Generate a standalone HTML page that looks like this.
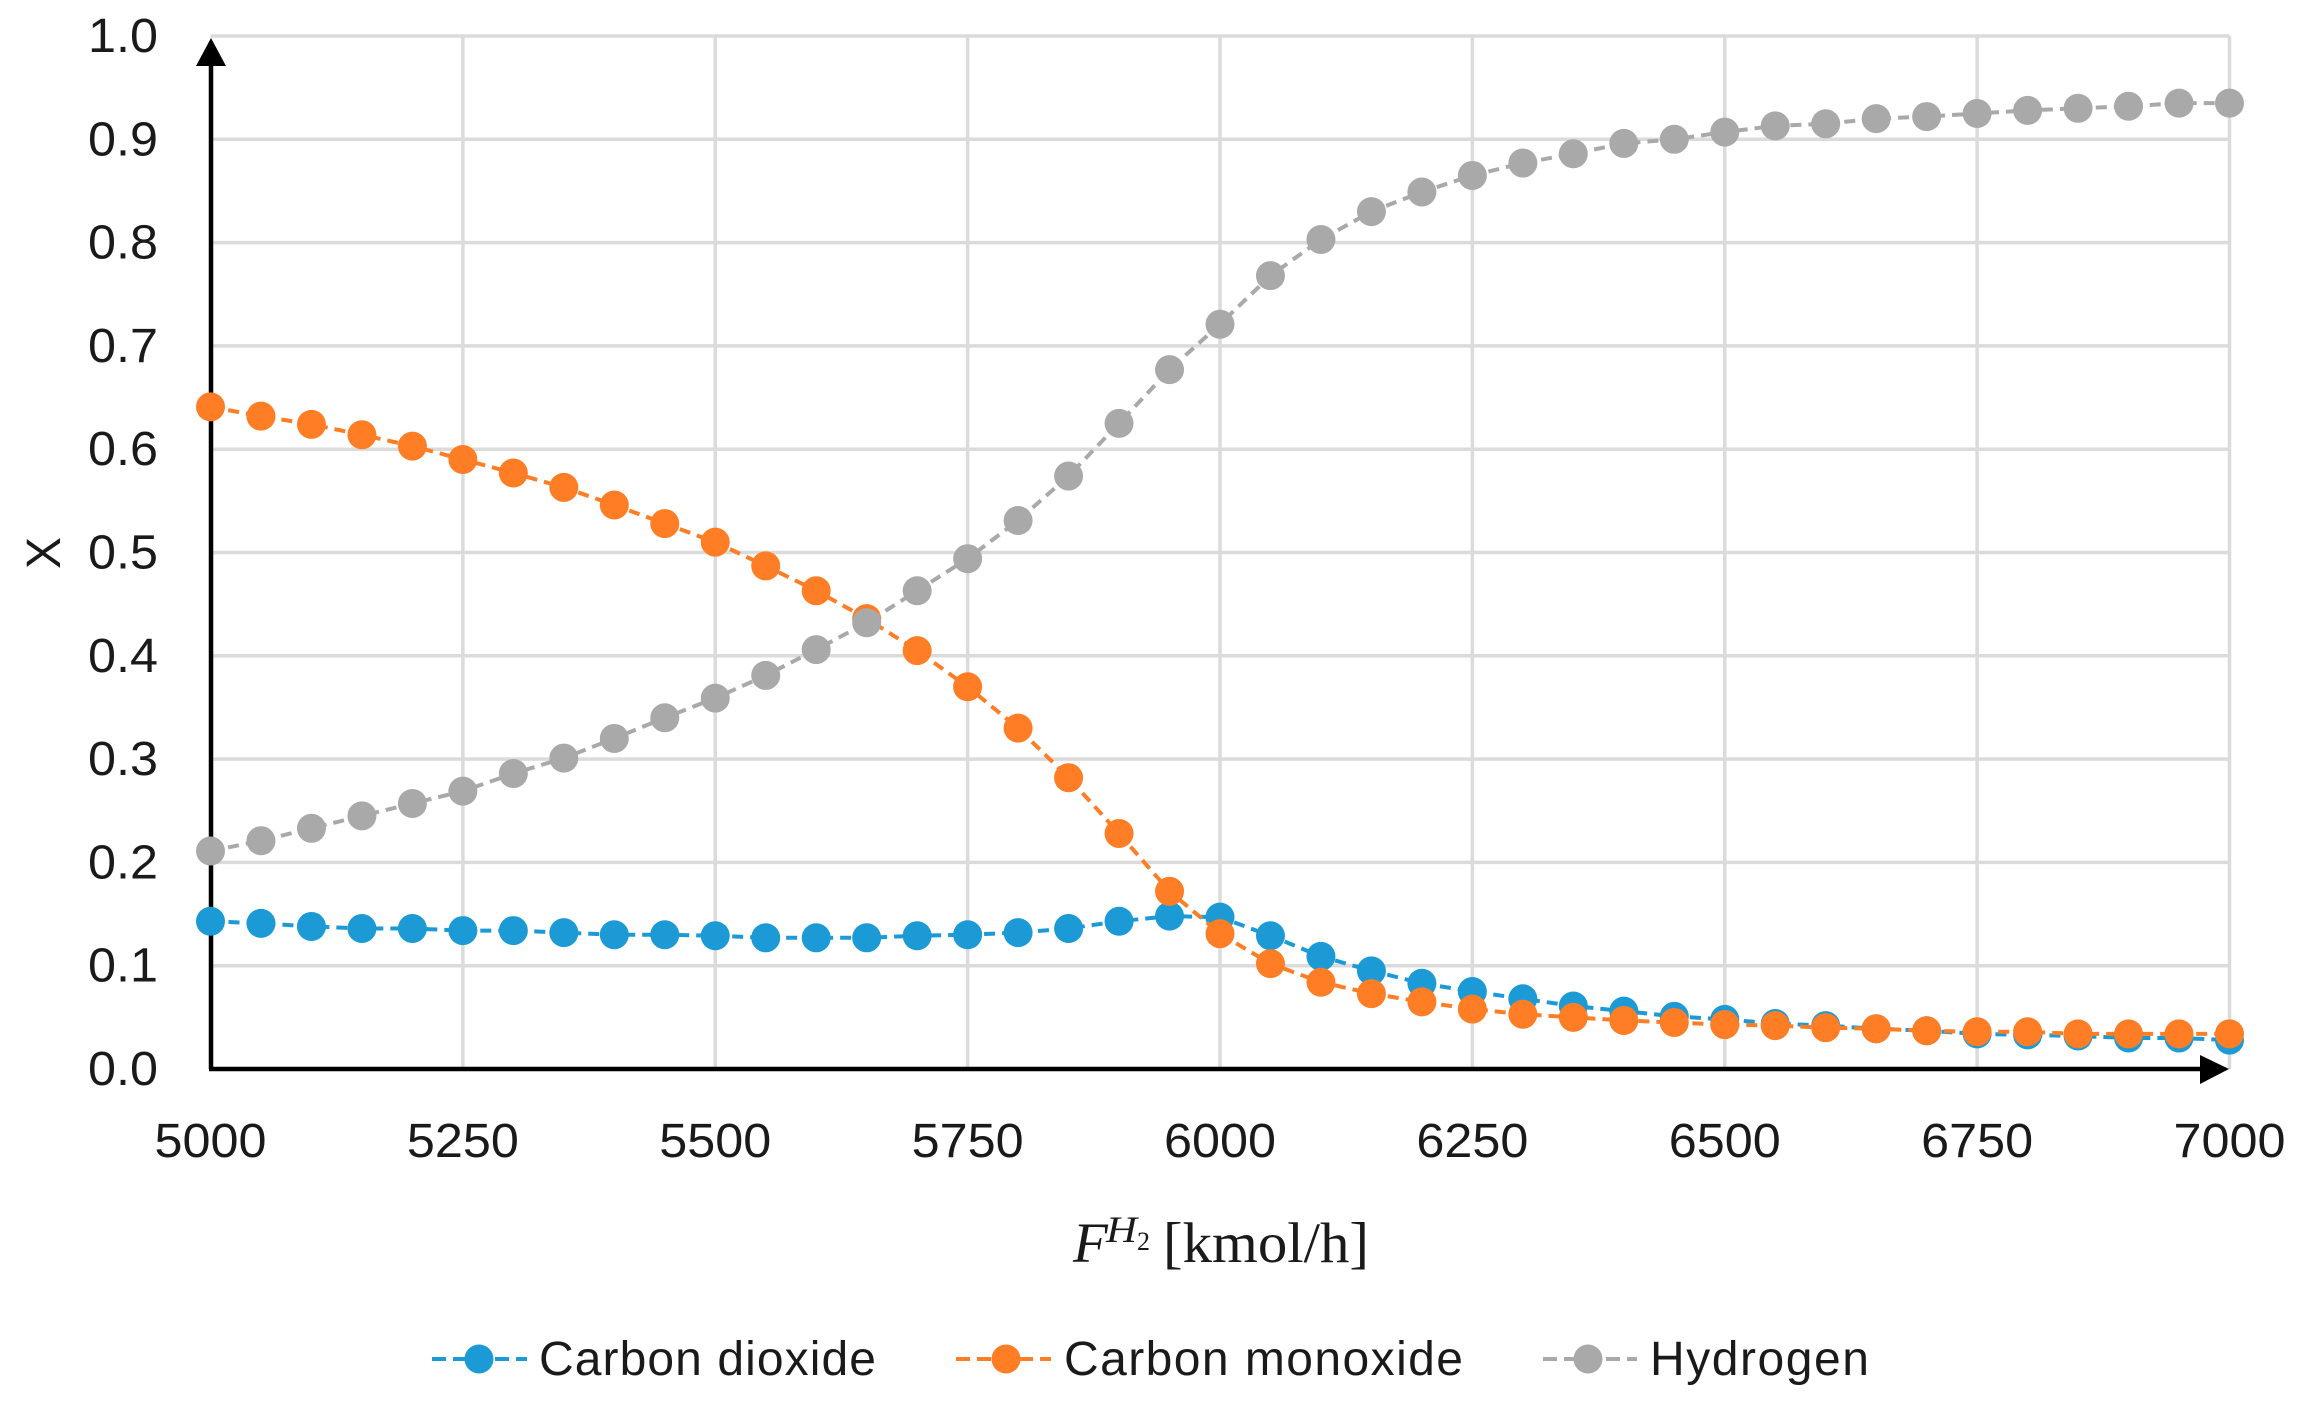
<!DOCTYPE html>
<html lang="en">
<head>
<meta charset="utf-8">
<title>Mole fraction vs hydrogen flow</title>
<style>
  html, body { margin: 0; padding: 0; background: #ffffff; }
  svg { display: block; }
  text { font-family: "Liberation Sans", sans-serif; fill: #1a1a1a; }
  .serif { font-family: "Liberation Serif", serif; }
</style>
</head>
<body>
<svg id="chart" xmlns="http://www.w3.org/2000/svg" width="2302" height="1408" viewBox="0 0 2302 1408">
  <rect x="0" y="0" width="2302" height="1408" fill="#ffffff"/>
  <g id="grid"></g>
  <g id="axes">
    <line x1="211" y1="1069" x2="211" y2="60" stroke="#000" stroke-width="4.5"/>
    <polygon points="211,38 196,66 226,66" fill="#000"/>
    <line x1="209" y1="1069" x2="2205" y2="1069" stroke="#000" stroke-width="4.5"/>
    <polygon points="2229,1069 2200,1055 2200,1084" fill="#000"/>
  </g>
  <g id="y-ticks"></g>
  <g id="x-ticks"></g>
  <g id="series"></g>

  <text transform="translate(60,553) rotate(-90)" text-anchor="middle" font-size="48">X</text>

  <g>
    <text class="serif" x="1073" y="1262" font-size="57" font-style="italic">F</text>
    <text class="serif" x="1106" y="1242" font-size="37" font-style="italic" textLength="31" lengthAdjust="spacingAndGlyphs">H</text>
    <text class="serif" x="1137" y="1250" font-size="26">2</text>
    <text class="serif" x="1163" y="1262" font-size="57" textLength="206" lengthAdjust="spacingAndGlyphs">[kmol/h]</text>
  </g>

  <g>
    <g>
      <line x1="432" y1="1359" x2="527" y2="1359" stroke="#1b9ad6" stroke-width="4" stroke-dasharray="14 7"/>
      <circle cx="479" cy="1359" r="14.5" fill="#1b9ad6"/>
      <text x="539" y="1375" font-size="48" textLength="337" lengthAdjust="spacing">Carbon dioxide</text>
    </g>
    <g>
      <line x1="956" y1="1359" x2="1051" y2="1359" stroke="#ff7d24" stroke-width="4" stroke-dasharray="14 7"/>
      <circle cx="1006" cy="1359" r="14.5" fill="#ff7d24"/>
      <text x="1064" y="1375" font-size="48" textLength="399" lengthAdjust="spacing">Carbon monoxide</text>
    </g>
    <g>
      <line x1="1543" y1="1359" x2="1637" y2="1359" stroke="#a9a9a9" stroke-width="4" stroke-dasharray="14 7"/>
      <circle cx="1588" cy="1359" r="14.5" fill="#a9a9a9"/>
      <text x="1650" y="1375" font-size="48" textLength="219" lengthAdjust="spacing">Hydrogen</text>
    </g>
  </g>
</svg>

<script>
const categories = [5000,5050,5100,5150,5200,5250,5300,5350,5400,5450,5500,5550,5600,5650,5700,5750,5800,5850,5900,5950,6000,6050,6100,6150,6200,6250,6300,6350,6400,6450,6500,6550,6600,6650,6700,6750,6800,6850,6900,6950,7000];
const carbonDioxide = [0.143,0.141,0.138,0.136,0.136,0.134,0.134,0.132,0.130,0.130,0.129,0.127,0.127,0.127,0.129,0.130,0.132,0.136,0.143,0.148,0.147,0.129,0.109,0.095,0.083,0.075,0.068,0.061,0.056,0.051,0.048,0.044,0.042,0.039,0.037,0.034,0.033,0.032,0.030,0.030,0.028];
const carbonMonoxide = [0.641,0.632,0.624,0.614,0.603,0.590,0.577,0.563,0.546,0.528,0.510,0.487,0.463,0.436,0.405,0.370,0.330,0.282,0.228,0.172,0.131,0.102,0.084,0.073,0.065,0.058,0.053,0.050,0.047,0.045,0.043,0.042,0.040,0.039,0.037,0.036,0.036,0.034,0.034,0.034,0.034];
const hydrogen = [0.211,0.221,0.233,0.245,0.257,0.269,0.286,0.301,0.320,0.340,0.359,0.381,0.406,0.432,0.463,0.494,0.531,0.574,0.625,0.677,0.721,0.768,0.803,0.830,0.849,0.865,0.877,0.886,0.896,0.900,0.907,0.913,0.915,0.920,0.922,0.925,0.928,0.930,0.932,0.935,0.935];
const xTickValues = [5000,5250,5500,5750,6000,6250,6500,6750,7000];
const yTickValues = [0.0,0.1,0.2,0.3,0.4,0.5,0.6,0.7,0.8,0.9,1.0];
const seriesNames = ['carbon-dioxide','carbon-monoxide','hydrogen'];

const NS = 'http://www.w3.org/2000/svg';
const xMin = 5000, xMax = 7000, yMin = 0, yMax = 1;
const plotLeft = 210.5, plotRight = 2229.5, plotTop = 36, plotBottom = 1069;

function xScale(v) { return plotLeft + (v - xMin) / (xMax - xMin) * (plotRight - plotLeft); }
function yScale(v) { return plotBottom - (v - yMin) / (yMax - yMin) * (plotBottom - plotTop); }

function gridLine(parent, x1, y1, x2, y2, label) {
  const l = document.createElementNS(NS, 'line');
  
  
  l.setAttribute('x1', x1);
  l.setAttribute('y1', y1);
  l.setAttribute('x2', x2);
  l.setAttribute('y2', y2);
  l.setAttribute('stroke', '#dbdbdb');
  l.setAttribute('stroke-width', '3.5');
  parent.appendChild(l);
}

const gridGroup = document.getElementById('grid');
yTickValues.forEach(function (t) {
  if (t > yMin) gridLine(gridGroup, plotLeft, yScale(t), plotRight, yScale(t), 'grid-line-y-' + t.toFixed(1));
});
xTickValues.forEach(function (t) {
  if (t > xMin) gridLine(gridGroup, xScale(t), plotTop, xScale(t), plotBottom, 'grid-line-x-' + t);
});

const yTickGroup = document.getElementById('y-ticks');
yTickValues.forEach(function (t) {
  const el = document.createElementNS(NS, 'text');
  
  
  el.setAttribute('x', 88);
  el.setAttribute('y', yScale(t) + 16);
  el.setAttribute('font-size', '48');
  el.setAttribute('textLength', '70');
  el.setAttribute('lengthAdjust', 'spacingAndGlyphs');
  el.textContent = t.toFixed(1);
  yTickGroup.appendChild(el);
});

const xTickGroup = document.getElementById('x-ticks');
xTickValues.forEach(function (t) {
  const el = document.createElementNS(NS, 'text');
  
  
  el.setAttribute('x', xScale(t) - 56);
  el.setAttribute('y', 1157);
  el.setAttribute('font-size', '48');
  el.setAttribute('textLength', '112');
  el.setAttribute('lengthAdjust', 'spacingAndGlyphs');
  el.textContent = String(t);
  xTickGroup.appendChild(el);
});

function drawSeries(name, values, color) {
  const root = document.getElementById('series');
  const g = document.createElementNS(NS, 'g');
  
  
  const pl = document.createElementNS(NS, 'polyline');
  
  
  pl.setAttribute('points', values.map(function (v, i) { return xScale(categories[i]) + ',' + yScale(v); }).join(' '));
  pl.setAttribute('fill', 'none');
  pl.setAttribute('stroke', color);
  pl.setAttribute('stroke-width', '4');
  pl.setAttribute('stroke-dasharray', '11 7');
  g.appendChild(pl);
  values.forEach(function (v, i) {
    const c = document.createElementNS(NS, 'circle');
    
    
    c.setAttribute('cx', xScale(categories[i]));
    c.setAttribute('cy', yScale(v));
    c.setAttribute('r', '14.5');
    c.setAttribute('fill', color);
    g.appendChild(c);
  });
  root.appendChild(g);
}

drawSeries(seriesNames[0], carbonDioxide, '#1b9ad6');
drawSeries(seriesNames[1], carbonMonoxide, '#ff7d24');
drawSeries(seriesNames[2], hydrogen, '#a9a9a9');
</script>
</body>
</html>
